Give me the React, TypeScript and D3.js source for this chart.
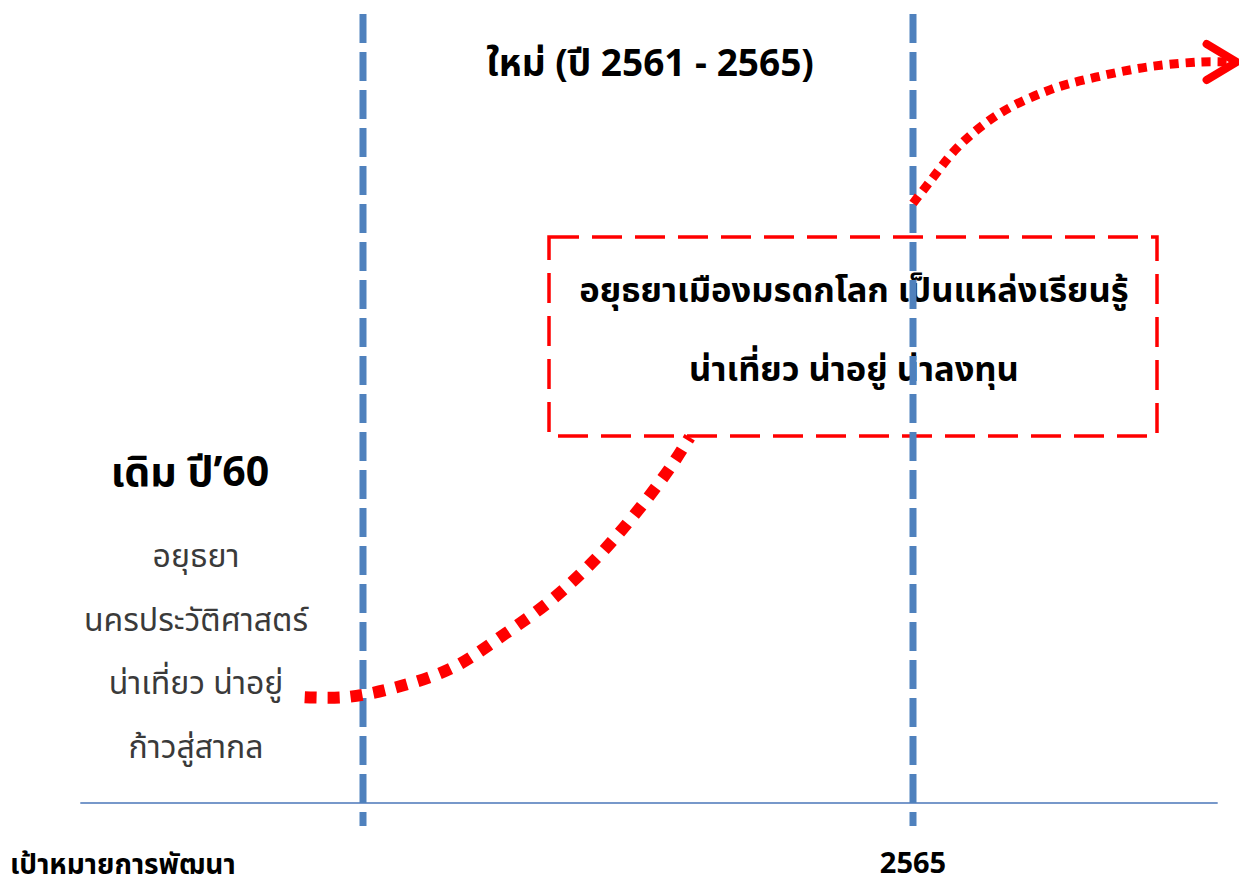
import React from "react";
import * as d3 from "d3";

// ---- data ----
const milestoneYears = [2560, 2565];
const axisTickLabels = ["2565"];
const axisTitle = "เป้าหมายการพัฒนา";
const axisExtentYears = [2557.43, 2567.77];

const pastYears = [2559.47, 2559.84, 2560.29, 2560.81, 2561.29, 2561.73, 2562.13, 2562.48, 2562.79, 2562.97];
const pastLevels = [13.4, 13.4, 14.6, 17.1, 21.4, 25.9, 31.1, 36.7, 42.4, 46.3];

const futureYears = [2565.0, 2565.15, 2565.42, 2565.79, 2566.25, 2566.7, 2567.15, 2567.61, 2567.86];
const futureLevels = [75.9, 78.6, 83.2, 87.3, 90.3, 92.0, 93.2, 93.8, 93.8];

const newTitle = "ใหม่ (ปี 2561 - 2565)";
const oldTitle = "เดิม ปี’60";
const oldLines = ["อยุธยา", "นครประวัติศาสตร์", "น่าเที่ยว น่าอยู่", "ก้าวสู่สากล"];
const goalLines = ["อยุธยาเมืองมรดกโลก เป็นแหล่งเรียนรู้", "น่าเที่ยว น่าอยู่ น่าลงทุน"];

const W = 1239;
const H = 888;
const FONT = "Tahoma, 'Noto Sans Thai', 'Leelawadee UI', 'Noto Sans', sans-serif";

export default function App() {
  const x = d3.scaleLinear().domain([2560, 2565]).range([363, 913]);
  const y = d3.scaleLinear().domain([0, 100]).range([803, 13]);

  const line = d3
    .line<[number, number]>()
    .x((d) => x(d[0]))
    .y((d) => y(d[1]))
    .curve(d3.curveCatmullRom.alpha(0.5));

  const pastPts: [number, number][] = pastYears.map((v, i) => [v, pastLevels[i]]);
  const futurePts: [number, number][] = futureYears.map((v, i) => [v, futureLevels[i]]);

  const last = futurePts[futurePts.length - 1];
  const tipX = x(last[0]) + 9;
  const tipY = y(last[1]);
  const arrow = `M${tipX - 30},${tipY - 18} L${tipX},${tipY} L${tipX - 30},${tipY + 18}`;

  return (
    <svg width={W} height={H} style={{ position: "absolute", left: 0, top: 0, background: "#fff" }}>
      {/* baseline axis */}
      <line
        x1={x(axisExtentYears[0])}
        x2={x(axisExtentYears[1])}
        y1={y(0)}
        y2={y(0)}
        stroke="#4a76b8"
        strokeWidth={1.5}
      />

      {/* goal box */}
      <rect
        x={549}
        y={237}
        width={608}
        height={199}
        fill="none"
        stroke="#ff0000"
        strokeWidth={3.5}
        strokeDasharray="30 13"
      />
      {goalLines.map((t, i) => (
        <text
          key={t}
          x={854}
          y={302 + i * 79}
          textAnchor="middle"
          fontFamily={FONT}
          fontWeight="bold"
          fontSize={34.5}
          fill="#000"
        >
          {t}
        </text>
      ))}

      {/* milestone guides */}
      {milestoneYears.map((yr) => (
        <line
          key={yr}
          x1={x(yr)}
          x2={x(yr)}
          y1={14}
          y2={826}
          stroke="#4f81bd"
          strokeWidth={7}
          strokeDasharray="29 9"
        />
      ))}

      {/* curves */}
      <path d={line(pastPts) ?? ""} fill="none" stroke="#ff0000" strokeWidth={12} strokeDasharray="12 11" />
      <path d={line(futurePts) ?? ""} fill="none" stroke="#ff0000" strokeWidth={9} strokeDasharray="9 7" />
      <path d={arrow} fill="none" stroke="#ff0000" strokeWidth={8} strokeLinecap="round" strokeLinejoin="round" />

      {/* titles */}
      <text x={650} y={76} textAnchor="middle" fontFamily={FONT} fontWeight="bold" fontSize={37} fill="#000">
        {newTitle}
      </text>
      <text x={190} y={486} textAnchor="middle" fontFamily={FONT} fontWeight="bold" fontSize={41} fill="#000">
        {oldTitle}
      </text>
      {oldLines.map((t, i) => (
        <text
          key={t}
          x={196}
          y={567 + i * 63.5}
          textAnchor="middle"
          fontFamily={FONT}
          fontSize={32}
          fill="#3a3a3a"
        >
          {t}
        </text>
      ))}

      {/* axis labels */}
      <text x={10} y={874} fontFamily={FONT} fontWeight="bold" fontSize={28} fill="#000">
        {axisTitle}
      </text>
      {axisTickLabels.map((t) => (
        <text key={t} x={x(+t)} y={873} textAnchor="middle" fontFamily={FONT} fontWeight="bold" fontSize={29} fill="#000">
          {t}
        </text>
      ))}
    </svg>
  );
}
